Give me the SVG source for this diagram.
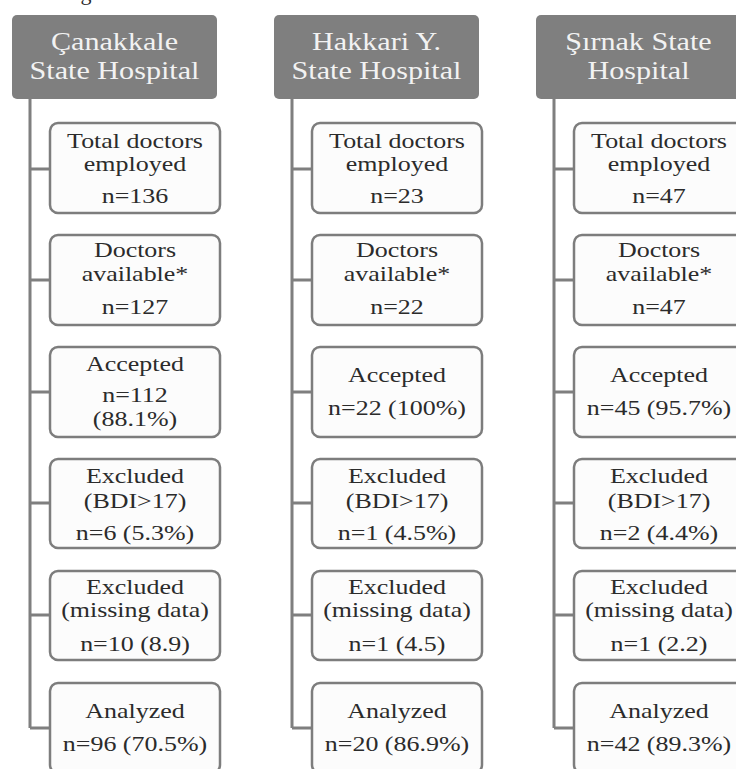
<svg xmlns="http://www.w3.org/2000/svg" width="736" height="769" viewBox="0 0 736 769">
<style>
.hdr{fill:#7f7f7f;}
.box{fill:#fcfcfc;stroke:#7d7d7d;stroke-width:2.5;}
.t{font-family:"Liberation Serif","Times New Roman",serif;font-size:22px;fill:#2b2b2b;text-anchor:middle;}
.h{font-family:"Liberation Serif","Times New Roman",serif;font-size:26px;fill:#f2f2f2;text-anchor:middle;}
.con{fill:none;stroke:#7f7f7f;stroke-width:3;}
</style>
<rect x="0" y="0" width="736" height="769" fill="#ffffff"/>
<text class="t" x="86" y="0" fill="#222">g</text>
<g id="connectors">
<path class="con" d="M30 99 V728 M30 169 H50 M30 280 H50 M30 392 H50 M30 503 H50 M30 615 H50 M30 728 H50"/>
<path class="con" d="M292 99 V728 M292 169 H312 M292 280 H312 M292 392 H312 M292 503 H312 M292 615 H312 M292 728 H312"/>
<path class="con" d="M554 99 V728 M554 169 H574 M554 280 H574 M554 392 H574 M554 503 H574 M554 615 H574 M554 728 H574"/>
</g>
<g id="h1"><rect class="hdr" x="12" y="15" width="205" height="84" rx="5"/>
<g transform="translate(114.5 0) scale(1.16 1)"><text class="h" x="0" y="50">Çanakkale</text><text class="h" x="0" y="79">State Hospital</text></g></g>
<g id="h2"><rect class="hdr" x="274" y="15" width="205" height="84" rx="5"/>
<g transform="translate(376.5 0) scale(1.16 1)"><text class="h" x="0" y="50">Hakkari Y.</text><text class="h" x="0" y="79">State Hospital</text></g></g>
<g id="h3"><rect class="hdr" x="536" y="15" width="205" height="84" rx="5"/>
<g transform="translate(638.5 0) scale(1.16 1)"><text class="h" x="0" y="50">Şırnak State</text><text class="h" x="0" y="79">Hospital</text></g></g>

<g id="c1b1"><rect class="box" x="50" y="123" width="170" height="90" rx="8"/>
<g transform="translate(135 0) scale(1.18 1)"><text class="t" y="148">Total doctors</text><text class="t" y="171">employed</text><text class="t" y="203">n=136</text></g></g>
<g id="c1b2"><rect class="box" x="50" y="235" width="170" height="90" rx="8"/>
<g transform="translate(135 0) scale(1.18 1)"><text class="t" y="257">Doctors</text><text class="t" y="281">available*</text><text class="t" y="314">n=127</text></g></g>
<g id="c1b3"><rect class="box" x="50" y="347" width="170" height="90" rx="8"/>
<g transform="translate(135 0) scale(1.18 1)"><text class="t" y="371">Accepted</text><text class="t" y="402">n=112</text><text class="t" y="426">(88.1%)</text></g></g>
<g id="c1b4"><rect class="box" x="50" y="459" width="170" height="89" rx="8"/>
<g transform="translate(135 0) scale(1.18 1)"><text class="t" y="483">Excluded</text><text class="t" y="508">(BDI&gt;17)</text><text class="t" y="540">n=6 (5.3%)</text></g></g>
<g id="c1b5"><rect class="box" x="50" y="571" width="170" height="89" rx="8"/>
<g transform="translate(135 0) scale(1.18 1)"><text class="t" y="594">Excluded</text><text class="t" y="617">(missing data)</text><text class="t" y="651">n=10 (8.9)</text></g></g>
<g id="c1b6"><rect class="box" x="50" y="683" width="170" height="90" rx="8"/>
<g transform="translate(135 0) scale(1.18 1)"><text class="t" y="718">Analyzed</text><text class="t" y="751">n=96 (70.5%)</text></g></g>

<g id="c2b1"><rect class="box" x="312" y="123" width="170" height="90" rx="8"/>
<g transform="translate(397 0) scale(1.18 1)"><text class="t" y="148">Total doctors</text><text class="t" y="171">employed</text><text class="t" y="203">n=23</text></g></g>
<g id="c2b2"><rect class="box" x="312" y="235" width="170" height="90" rx="8"/>
<g transform="translate(397 0) scale(1.18 1)"><text class="t" y="257">Doctors</text><text class="t" y="281">available*</text><text class="t" y="314">n=22</text></g></g>
<g id="c2b3"><rect class="box" x="312" y="347" width="170" height="90" rx="8"/>
<g transform="translate(397 0) scale(1.18 1)"><text class="t" y="382">Accepted</text><text class="t" y="415">n=22 (100%)</text></g></g>
<g id="c2b4"><rect class="box" x="312" y="459" width="170" height="89" rx="8"/>
<g transform="translate(397 0) scale(1.18 1)"><text class="t" y="483">Excluded</text><text class="t" y="508">(BDI&gt;17)</text><text class="t" y="540">n=1 (4.5%)</text></g></g>
<g id="c2b5"><rect class="box" x="312" y="571" width="170" height="89" rx="8"/>
<g transform="translate(397 0) scale(1.18 1)"><text class="t" y="594">Excluded</text><text class="t" y="617">(missing data)</text><text class="t" y="651">n=1 (4.5)</text></g></g>
<g id="c2b6"><rect class="box" x="312" y="683" width="170" height="90" rx="8"/>
<g transform="translate(397 0) scale(1.18 1)"><text class="t" y="718">Analyzed</text><text class="t" y="751">n=20 (86.9%)</text></g></g>

<g id="c3b1"><rect class="box" x="574" y="123" width="170" height="90" rx="8"/>
<g transform="translate(659 0) scale(1.18 1)"><text class="t" y="148">Total doctors</text><text class="t" y="171">employed</text><text class="t" y="203">n=47</text></g></g>
<g id="c3b2"><rect class="box" x="574" y="235" width="170" height="90" rx="8"/>
<g transform="translate(659 0) scale(1.18 1)"><text class="t" y="257">Doctors</text><text class="t" y="281">available*</text><text class="t" y="314">n=47</text></g></g>
<g id="c3b3"><rect class="box" x="574" y="347" width="170" height="90" rx="8"/>
<g transform="translate(659 0) scale(1.18 1)"><text class="t" y="382">Accepted</text><text class="t" y="415">n=45 (95.7%)</text></g></g>
<g id="c3b4"><rect class="box" x="574" y="459" width="170" height="89" rx="8"/>
<g transform="translate(659 0) scale(1.18 1)"><text class="t" y="483">Excluded</text><text class="t" y="508">(BDI&gt;17)</text><text class="t" y="540">n=2 (4.4%)</text></g></g>
<g id="c3b5"><rect class="box" x="574" y="571" width="170" height="89" rx="8"/>
<g transform="translate(659 0) scale(1.18 1)"><text class="t" y="594">Excluded</text><text class="t" y="617">(missing data)</text><text class="t" y="651">n=1 (2.2)</text></g></g>
<g id="c3b6"><rect class="box" x="574" y="683" width="170" height="90" rx="8"/>
<g transform="translate(659 0) scale(1.18 1)"><text class="t" y="718">Analyzed</text><text class="t" y="751">n=42 (89.3%)</text></g></g>
</svg>
